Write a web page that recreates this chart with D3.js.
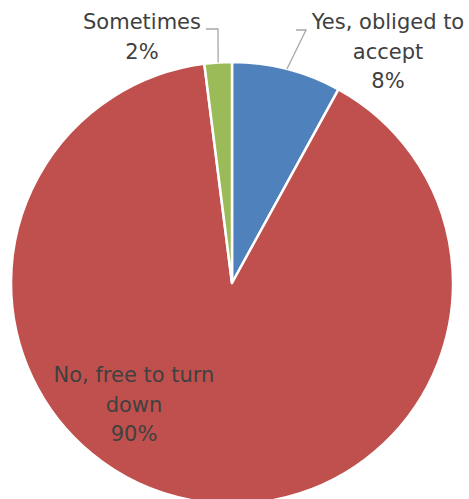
<!DOCTYPE html>
<html>
<head>
<meta charset="utf-8">
<script src="https://cdn.jsdelivr.net/npm/d3@7"></script>
<style>
  body { margin: 0; background: #fff; }
  text { font-family: "DejaVu Sans", Verdana, sans-serif; fill: #404040; }
</style>
</head>
<body>
<script>
var categories = ["Yes, obliged to accept", "No, free to turn down", "Sometimes"];
var values = [8, 90, 2];
var colors = ["#4F81BD", "#C0504D", "#9BBB59"];
// label lines as shown in the chart
var labelLines = [["Yes, obliged to", "accept", "8%"], ["No, free to turn", "down", "90%"], ["Sometimes", "2%"]];

var width = 469, height = 499;
var cx = 232, cy = 283, radius = 221;

var svg = d3.select("body").append("svg")
    .attr("width", width)
    .attr("height", height);

var pie = d3.pie().sort(null).value(function(d){ return d; });
var arc = d3.arc().innerRadius(0).outerRadius(radius);
var arcs = pie(values);

var g = svg.append("g").attr("transform", "translate(" + cx + "," + cy + ")");

g.selectAll("path")
    .data(arcs)
    .enter().append("path")
    .attr("d", arc)
    .attr("fill", function(d, i){ return colors[i]; })
    .attr("stroke", "#fff")
    .attr("stroke-width", 2.5)
    .attr("stroke-linejoin", "round");

// label positions (relative to centre)
var labelPos = [[156, -254], [-98, 99], [-90, -254]];
var lineH = 29.5;

// leader lines for outside labels
var leader = svg.append("g").attr("fill", "none").attr("stroke", "#a6a6a6").attr("stroke-width", 1.3);
function edgePoint(d, r) {
  var a = (d.startAngle + d.endAngle) / 2;
  return [cx + Math.sin(a) * r, cy - Math.cos(a) * r];
}
var p0 = edgePoint(arcs[0], radius);
leader.append("path").attr("d", d3.line()([[296, 30], [306, 30], p0]));
var p2 = edgePoint(arcs[2], radius);
leader.append("path").attr("d", d3.line()([[206, 29], [218, 29], p2]));

labelLines.forEach(function(lines, i) {
  var t = svg.append("text")
      .attr("text-anchor", "middle")
      .attr("font-size", 21);
  lines.forEach(function(s, j) {
    t.append("tspan")
      .attr("x", cx + labelPos[i][0])
      .attr("y", cy + labelPos[i][1] + j * lineH)
      .text(s);
  });
});
</script>
</body>
</html>
